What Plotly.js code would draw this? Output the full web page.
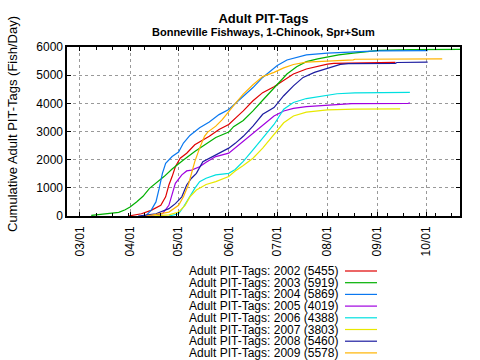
<!DOCTYPE html>
<html>
<head>
<meta charset="utf-8">
<script src="https://cdn.plot.ly/plotly-3.0.1.min.js"></script>
<style>html,body{margin:0;padding:0;background:#fff;}#chart{width:480px;height:360px;}</style>
</head>
<body>
<div id="chart"></div>
<script>
// ---- data (dates are MM-DD within the season) ----
const years = ['2002','2003','2004','2005','2006','2007','2008','2009'];
const totals = [5455, 5919, 5869, 4019, 4388, 3803, 5460, 5578];

const dates2002 = ['03-31','04-08','04-14','04-20','04-23','04-25','04-27','04-29','05-02','05-06','05-11','05-15','05-20','05-26','06-01','06-06','06-10','06-16','06-22','06-29','07-05','07-11','07-19','07-27','08-01','08-05','08-18','09-12'];
const vals2002  = [0,80,200,380,680,1100,1400,1750,2050,2230,2530,2650,2830,3070,3250,3520,3730,4090,4380,4590,4830,5040,5220,5330,5390,5420,5440,5455];

const dates2003 = ['03-08','03-13','03-18','03-25','03-29','04-01','04-05','04-09','04-13','04-17','04-22','04-27','05-01','05-04','05-11','05-17','05-24','06-01','06-04','06-10','06-16','06-22','06-29','07-01','07-07','07-13','07-19','07-26','08-01','08-08','08-17','08-26','09-02','09-22','10-22'];
const vals2003  = [20,60,100,130,220,320,500,700,980,1160,1400,1670,1870,1990,2290,2530,2790,2980,3170,3390,3730,4110,4560,4680,5040,5300,5480,5580,5640,5720,5780,5840,5880,5910,5919];

const dates2004 = ['04-08','04-11','04-14','04-17','04-19','04-21','04-23','04-27','05-01','05-04','05-08','05-14','05-20','05-26','06-01','06-05','06-10','06-16','06-22','06-28','07-01','07-07','07-13','07-19','08-01','08-18','08-28','09-01','10-02'];
const vals2004  = [0,25,200,500,980,1515,1870,2110,2270,2590,2860,3130,3340,3600,3780,3990,4270,4560,4920,5220,5340,5540,5640,5720,5780,5810,5830,5860,5869];

const dates2005 = ['04-10','04-21','04-25','04-27','04-29','05-03','05-06','05-09','05-14','05-18','05-24','06-01','06-05','06-10','06-16','06-22','06-29','07-05','07-11','07-19','08-01','08-16','09-20','09-21'];
const vals2005  = [0,80,380,800,1160,1460,1600,1630,1750,1910,2110,2230,2420,2650,2950,3250,3550,3730,3820,3880,3940,3990,4000,4019];

const dates2006 = ['04-25','05-01','05-04','05-07','05-11','05-14','05-18','05-24','06-01','06-05','06-10','06-16','06-22','06-29','07-05','07-11','07-19','07-27','08-01','08-07','08-18','09-21'];
const vals2006  = [0,80,320,620,980,1220,1340,1460,1515,1650,1940,2350,2770,3250,3790,4030,4170,4250,4290,4340,4370,4388];

const dates2007 = ['04-15','04-25','05-01','05-05','05-08','05-12','05-18','05-24','06-01','06-05','06-10','06-16','06-22','06-29','07-05','07-11','07-19','08-01','08-18','09-15'];
const vals2007  = [0,40,140,380,680,920,1120,1220,1400,1600,1790,2050,2410,2890,3310,3550,3690,3770,3795,3803];

const dates2008 = ['04-06','04-17','04-25','04-29','05-03','05-06','05-09','05-12','05-16','05-22','05-26','06-01','06-05','06-10','06-16','06-22','06-29','07-05','07-11','07-17','07-24','08-01','08-05','08-09','08-14','09-12','09-13','10-02'];
const vals2008  = [0,80,260,440,680,1100,1340,1515,1930,2110,2230,2410,2580,2830,3190,3610,3850,4270,4620,4920,5100,5240,5330,5380,5410,5420,5450,5460];

const dates2009 = ['04-11','04-25','05-01','05-04','05-07','05-09','05-11','05-14','05-17','05-19','05-24','05-28','06-01','06-05','06-10','06-16','06-22','06-29','07-05','07-11','07-19','07-27','08-05','08-17','08-18','10-11'];
const vals2009  = [0,140,380,680,1100,1515,1930,2410,2830,2980,3190,3420,3720,3990,4330,4660,4950,5100,5260,5380,5460,5480,5520,5545,5565,5578];

const xTickLabels = ['03/01','04/01','05/01','06/01','07/01','08/01','09/01','10/01'];

// ---- styles ----
const colors = ['#e00000','#00b000','#0a78f0','#a000e0','#00e0e0','#e8e800','#1c1ca0','#ffb400'];
const seasonYear = '2001';
const allDates = [dates2002,dates2003,dates2004,dates2005,dates2006,dates2007,dates2008,dates2009];
const allVals  = [vals2002,vals2003,vals2004,vals2005,vals2006,vals2007,vals2008,vals2009];

const traces = years.map((y,i)=>({
  type:'scatter', mode:'lines',
  x: allDates[i].map(d=>seasonYear+'-'+d),
  y: allVals[i],
  line:{color:colors[i], width:1.2},
  name:'Adult PIT-Tags: '+y+' ('+totals[i]+')',
  showlegend:false
}));

const tickVals = xTickLabels.map(t=>seasonYear+'-'+t.replace('/','-'));

const plotL=67, plotR=460, plotT=47, plotB=216;
const pw=plotR-plotL, ph=plotB-plotT;
const px2x = p=>(p-plotL)/pw;
const py2y = p=>(plotB-p)/ph;

const font = 'Liberation Sans, Arial, Helvetica, sans-serif';
const annotations = [];
const shapes = [];
years.forEach((y,i)=>{
  const py = 271 + i*11.7;
  annotations.push({xref:'paper', yref:'paper', x:px2x(340), y:py2y(py), xanchor:'right', yanchor:'middle',
    text:'Adult PIT-Tags: '+y+' ('+totals[i]+')', showarrow:false, font:{family:font,size:12,color:'#000'}});
  shapes.push({type:'line', xref:'paper', yref:'paper', x0:px2x(345), x1:px2x(377), y0:py2y(py), y1:py2y(py),
    line:{color:colors[i], width:1.2}});
});
annotations.push({xref:'paper', yref:'paper', x:px2x(12), y:py2y(124), xanchor:'center', yanchor:'middle',
  textangle:-90, text:'Cumulative Adult PIT-Tags (Fish/Day)', showarrow:false, font:{family:font,size:13,color:'#000'}});
annotations.push({xref:'paper', yref:'paper', x:0.5, y:py2y(32), xanchor:'center', yanchor:'middle',
  text:'<b>Bonneville Fishways, 1-Chinook, Spr+Sum</b>', showarrow:false, font:{family:font,size:11,color:'#000'}});

const layout = {
  width:480, height:360,
  margin:{l:plotL, r:480-plotR, t:plotT, b:360-plotB},
  paper_bgcolor:'#fff', plot_bgcolor:'#fff',
  font:{family:font, size:12, color:'#000'},
  title:{text:'<b>Adult PIT-Tags</b>', font:{family:font,size:13,color:'#000'}, x:0.5, xref:'paper', xanchor:'center', y:1-18/360, yanchor:'middle'},
  xaxis:{
    type:'date', range:[seasonYear+'-02-21', seasonYear+'-10-22'],
    tickmode:'array', tickvals:tickVals, ticktext:xTickLabels, tickangle:-90,
    ticks:'inside', ticklen:4, tickcolor:'#000', mirror:'ticks', ticklabelstandoff:4,
    showline:true, linecolor:'#000', linewidth:1.6,
    showgrid:true, gridcolor:'#999', griddash:'3px,3px', gridwidth:1,
    minor:{ticks:'inside', ticklen:3, tickcolor:'#000', dtick:10*86400000, tick0:seasonYear+'-03-01', showgrid:false},
    zeroline:false, tickfont:{family:font,size:12,color:'#000'}
  },
  yaxis:{
    range:[0,6000], tickvals:[0,1000,2000,3000,4000,5000,6000],
    ticks:'inside', ticklen:4, tickcolor:'#000', mirror:'ticks',
    showline:true, linecolor:'#000', linewidth:1.6,
    showgrid:true, gridcolor:'#999', griddash:'3px,3px', gridwidth:1,
    zeroline:false, tickfont:{family:font,size:12,color:'#000'}
  },
  annotations:annotations,
  shapes:shapes,
  showlegend:false
};

Plotly.newPlot('chart', traces, layout, {staticPlot:true, displayModeBar:false});
</script>
</body>
</html>
